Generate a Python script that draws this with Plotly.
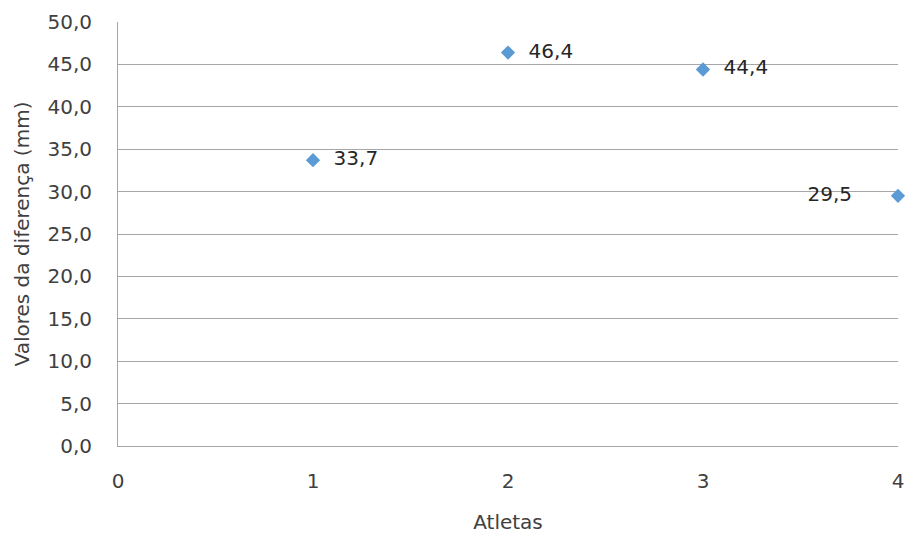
import plotly.graph_objects as go

atletas = [1, 2, 3, 4]
valores = [33.7, 46.4, 44.4, 29.5]
rotulos = ["33,7", "46,4", "44,4", "29,5"]
posicoes = ["middle right", "middle right", "middle right", "middle left"]

font_family = "DejaVu Sans, sans-serif"

fig = go.Figure(go.Scatter(
    x=atletas, y=valores, mode="markers+text",
    marker=dict(symbol="diamond", size=11, color="#5B9BD5"),
    text=["  " + r if p == "middle right" else r + "      " for r, p in zip(rotulos, posicoes)],
    textposition=posicoes,
    textfont=dict(family=font_family, size=20, color="#262626"),
    cliponaxis=False,
    showlegend=False,
))

fig.update_layout(
    width=909, height=536,
    margin=dict(l=118, r=11, t=22, b=90, autoexpand=False),
    plot_bgcolor="white", paper_bgcolor="white",
    separators=",.",
    font=dict(family=font_family, size=20, color="#404040"),
)
fig.update_xaxes(
    range=[0, 4], tickvals=[0, 1, 2, 3, 4], tickformat="d",
    showgrid=False, zeroline=False,
    showline=True, linecolor="#A6A6A6", linewidth=1,
    ticks="", ticklabelstandoff=17, automargin=False,
    title=dict(text="Atletas", font=dict(size=20, color="#404040"), standoff=22),
)
fig.update_yaxes(
    range=[0, 50], dtick=5, tickformat=".1f",
    showgrid=True, gridcolor="#A6A6A6", gridwidth=1,
    zeroline=False, showline=True, linecolor="#A6A6A6", linewidth=1,
    ticks="", ticklabelstandoff=21, automargin=False,
    title=dict(text="Valores da diferença (mm)", font=dict(size=20, color="#404040"), standoff=12),
)

fig.write_html(
    "out.html",
    config={"displayModeBar": False},
    post_script="document.body.style.margin='0';document.body.style.overflow='hidden';",
)
